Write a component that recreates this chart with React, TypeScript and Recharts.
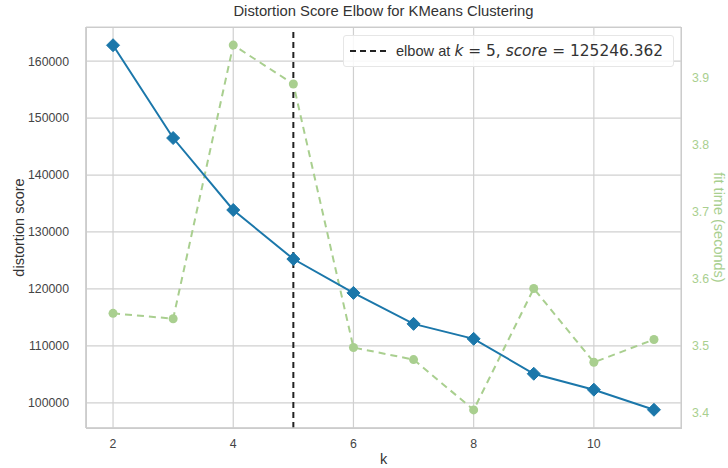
import React from 'react';
import {
  ComposedChart,
  Line,
  XAxis,
  YAxis,
  CartesianGrid,
  ReferenceLine,
} from 'recharts';

// values
const kValues = [2, 3, 4, 5, 6, 7, 8, 9, 10, 11];
const distortionScores = [162800, 146500, 133860, 125246, 119300, 113860, 111230, 105100, 102300, 98770];
const fitTimes = [3.548, 3.54, 3.948, 3.89, 3.497, 3.479, 3.404, 3.585, 3.475, 3.509];
const xTicks = [2, 4, 6, 8, 10];
const leftTicks = [100000, 110000, 120000, 130000, 140000, 150000, 160000];
const rightTicks = [3.4, 3.5, 3.6, 3.7, 3.8, 3.9];
const elbowK = 5;
const elbowScore = 125246.362;

const data = kValues.map((k, i) => ({
  k,
  distortion: distortionScores[i],
  fitTime: fitTimes[i],
}));

const BLUE = '#1b77aa';
const GREEN = '#a9cf8f';
const FONT = '"Liberation Sans", Arial, sans-serif';

const Diamond = (props: any) => {
  const { cx, cy, index } = props;
  if (cx == null || cy == null) return null;
  const s = 6.5;
  return (
    <path
      key={`d-${index}`}
      d={`M${cx},${cy - s} L${cx + s},${cy} L${cx},${cy + s} L${cx - s},${cy} Z`}
      fill={BLUE}
      stroke={BLUE}
      strokeWidth={1}
    />
  );
};

const App: React.FC = () => {
  return (
    <div
      style={{
        position: 'absolute',
        left: 0,
        top: 0,
        width: 728,
        height: 468,
        background: '#fff',
        fontFamily: FONT,
      }}
    >
      <div
        style={{
          position: 'absolute',
          left: 86,
          width: 595,
          top: 3,
          textAlign: 'center',
          fontSize: 14.8,
          color: '#333',
        }}
      >
        Distortion Score Elbow for KMeans Clustering
      </div>
      <ComposedChart
        width={728}
        height={468}
        data={data}
        margin={{ top: 27, right: 7, left: 10, bottom: 10 }}
        style={{ fontFamily: FONT }}
      >
        <CartesianGrid yAxisId="left" stroke="#d0d0d0" strokeWidth={1.2} />
        <XAxis
          dataKey="k"
          type="number"
          domain={[1.55, 11.45]}
          ticks={xTicks}
          allowDataOverflow
          tickLine={false}
          axisLine={{ stroke: '#cccccc', strokeWidth: 1.5 }}
          tick={{ fill: '#444', fontSize: 12.3 }}
          tickMargin={5}
          height={30}
          label={{ value: 'k', position: 'insideBottom', offset: -6, fill: '#333', fontSize: 14.5 }}
        />
        <YAxis
          yAxisId="left"
          domain={[95570, 166000]}
          ticks={leftTicks}
          allowDataOverflow
          tickLine={false}
          axisLine={{ stroke: '#cccccc', strokeWidth: 1.5 }}
          tick={{ fill: '#444', fontSize: 12.3 }}
          tickMargin={11}
          width={76}
          label={{
            value: 'distortion score',
            angle: -90,
            position: 'insideLeft',
            offset: 9,
            style: { textAnchor: 'middle', fill: '#333', fontSize: 14.5 },
          }}
        />
        <YAxis
          yAxisId="right"
          orientation="right"
          domain={[3.377, 3.975]}
          ticks={rightTicks}
          allowDataOverflow
          tickLine={false}
          axisLine={false}
          tick={{ fill: GREEN, fontSize: 12.3 }}
          tickFormatter={(v: number) => v.toFixed(1)}
          tickMargin={5}
          width={40}
          label={{
            value: 'fit time (seconds)',
            angle: 90,
            position: 'insideRight',
            offset: 2,
            style: { textAnchor: 'middle', fill: GREEN, fontSize: 14.5 },
          }}
        />
        <Line
          yAxisId="right"
          dataKey="fitTime"
          stroke={GREEN}
          strokeWidth={2}
          strokeDasharray="7 5"
          dot={{ r: 4.5, fill: GREEN, stroke: GREEN, strokeWidth: 0 }}
          activeDot={false}
          isAnimationActive={false}
        />
        <Line
          yAxisId="left"
          dataKey="distortion"
          stroke={BLUE}
          strokeWidth={2}
          dot={Diamond}
          activeDot={false}
          isAnimationActive={false}
        />
        <ReferenceLine
          yAxisId="left"
          x={elbowK}
          stroke="#222"
          strokeWidth={2}
          strokeDasharray="6 4"
        />
      </ComposedChart>
      <div
        style={{
          position: 'absolute',
          left: 86,
          top: 27,
          width: 594,
          height: 400,
          border: '1.5px solid #cccccc',
          pointerEvents: 'none',
        }}
      />
      <div
        style={{
          position: 'absolute',
          left: 343,
          top: 35,
          width: 331,
          height: 32,
          boxSizing: 'border-box',
          border: '1px solid #e6e6e6',
          borderRadius: 3,
          background: 'rgba(255,255,255,0.85)',
          display: 'flex',
          alignItems: 'center',
          fontSize: 14.6,
          color: '#333',
        }}
      >
        <svg width={48} height={10} style={{ marginLeft: 4, flexShrink: 0 }}>
          <line x1={2} y1={5} x2={38} y2={5} stroke="#222" strokeWidth={2} strokeDasharray="6 4" />
        </svg>
        <span style={{ whiteSpace: 'nowrap' }}>
          elbow at{' '}
          <span style={{ fontFamily: '"DejaVu Sans", sans-serif', fontSize: 15.4 }}>
            <i>k</i> = {elbowK}, <i>score</i> = {elbowScore.toFixed(3)}
          </span>
        </span>
      </div>
    </div>
  );
};

export default App;
